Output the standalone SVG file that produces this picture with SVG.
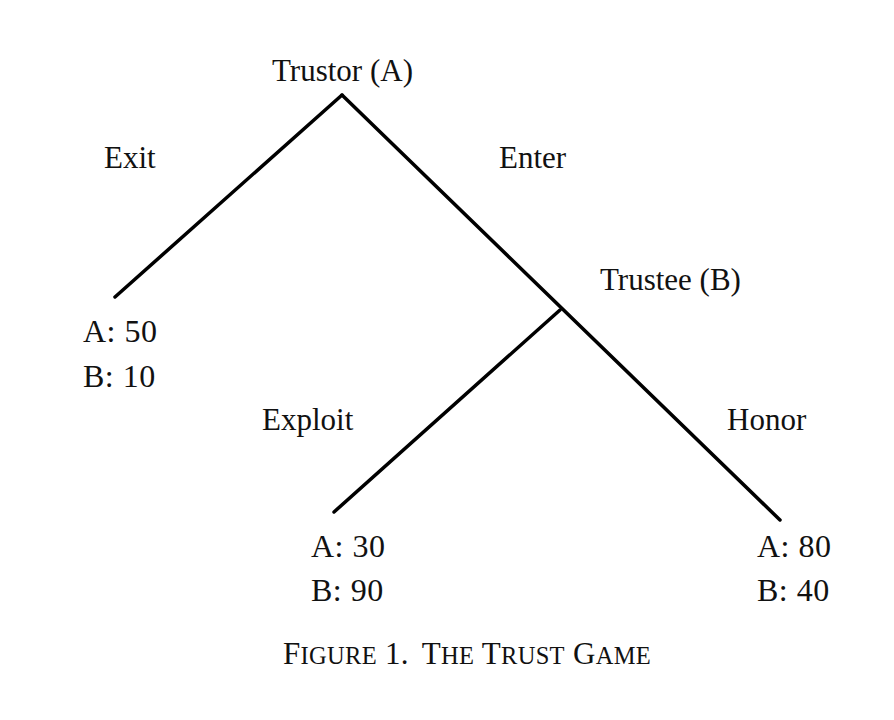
<svg xmlns="http://www.w3.org/2000/svg" width="894" height="720" viewBox="0 0 894 720">
<style>
text{font-family:"Liberation Serif","Times New Roman",serif;font-size:31px;fill:#111}
.pay{font-size:32px;letter-spacing:0.5px}
.cap{font-size:31px;letter-spacing:0.3px}
.sc{font-size:24.5px}
line{stroke:#000;stroke-width:3.5;stroke-linecap:round}
</style>
<rect width="894" height="720" fill="#fff"/>
<g id="connectors">
<line x1="342" y1="95" x2="115" y2="297"/>
<line x1="342" y1="95" x2="780" y2="520"/>
<line x1="560" y1="310" x2="334" y2="512"/>
</g>
<g id="trustor"><text x="272" y="81">Trustor (A)</text></g>
<g id="exit-label"><text x="104" y="168">Exit</text></g>
<g id="enter-label"><text x="499" y="168">Enter</text></g>
<g id="trustee"><text x="600" y="290">Trustee (B)</text></g>
<g id="payoff-exit"><text class="pay" x="83" y="342">A: 50</text><text class="pay" x="83" y="387">B: 10</text></g>
<g id="exploit-label"><text x="262" y="430">Exploit</text></g>
<g id="honor-label"><text x="727" y="430">Honor</text></g>
<g id="payoff-exploit"><text class="pay" x="311" y="557">A: 30</text><text class="pay" x="311" y="601">B: 90</text></g>
<g id="payoff-honor"><text class="pay" x="757" y="557">A: 80</text><text class="pay" x="757" y="601">B: 40</text></g>
<g id="caption"><text x="283" y="664" class="cap">F<tspan class="sc">IGURE</tspan> 1.<tspan dx="13">T</tspan><tspan class="sc">HE</tspan> T<tspan class="sc">RUST</tspan> G<tspan class="sc">AME</tspan></text></g>
</svg>
